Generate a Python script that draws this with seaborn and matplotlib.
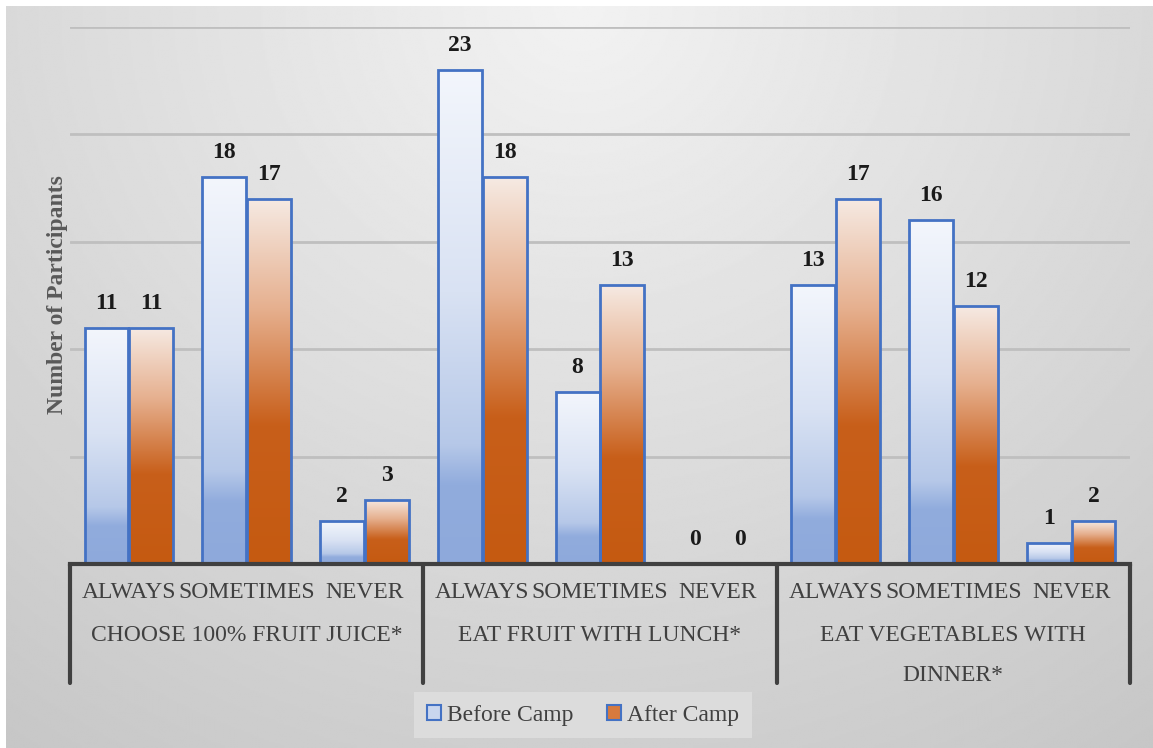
import numpy as np
import pandas as pd
import matplotlib
matplotlib.use("Agg")
import matplotlib.pyplot as plt
import seaborn as sns
from matplotlib.colors import LinearSegmentedColormap
from matplotlib.patches import Patch
import matplotlib.transforms as mtransforms

# ---- data ----
groups = ["CHOOSE 100% FRUIT JUICE*", "EAT FRUIT WITH LUNCH*", "EAT VEGETABLES WITH\nDINNER*"]
responses = ["ALWAYS", "SOMETIMES", "NEVER"]
periods = ["Before Camp", "After Camp"]
before_camp = [11, 18, 2, 23, 8, 0, 13, 16, 1]
after_camp = [11, 17, 3, 18, 13, 0, 17, 12, 2]

items = [f"{g}|{r}" for g in groups for r in responses]
df = pd.DataFrame({
    "item": items * 2,
    "period": [periods[0]] * len(items) + [periods[1]] * len(items),
    "count": before_camp + after_camp,
})

sns.set_theme(style="white")
plt.rcParams["font.family"] = ["Liberation Serif", "DejaVu Serif"]

W, H, DPI = 1153, 748, 100
fig = plt.figure(figsize=(W / DPI, H / DPI), dpi=DPI)
fig.patch.set_facecolor("white")

# soft gray backdrop of the chart area
bg = fig.add_axes([6 / W, 0, 1 - 6 / W, (H - 6) / H], zorder=-10)
yy, xx = np.mgrid[0:1:400j, 0:1:600j]
dist = np.sqrt(((xx - 0.5) / 0.7) ** 2 + yy ** 2)
shade = np.clip(0.95 - 0.14 * dist, 0, 1)
bg.imshow(shade, cmap="gray", vmin=0, vmax=1, aspect="auto", origin="upper",
          interpolation="bilinear")
bg.set_axis_off()

# plotting area
x0, x1 = 70, 1130
y_base, y_top = 564, 27
ax = fig.add_axes([x0 / W, (H - y_base) / H, (x1 - x0) / W, (y_base - y_top) / H])
ax.patch.set_alpha(0)

sns.barplot(data=df, x="item", y="count", hue="period", order=items,
            hue_order=periods, width=0.76, gap=0.02, ax=ax, legend=False,
            edgecolor="#4472C4", linewidth=2)

ax.set_ylim(0, 25)
ax.set_xlim(-0.5, len(items) - 0.5)
ax.set_yticks([5, 10, 15, 20, 25])
ax.yaxis.grid(True, color="#BFBFBF", linewidth=2)
ax.set_axisbelow(True)
ax.tick_params(left=False, bottom=False, labelleft=False, labelbottom=False)
for s in ax.spines.values():
    s.set_visible(False)
ax.set_xlabel("")
ax.set_ylabel("")

before_stops = [(0.0, "#F3F6FC"), (0.45, "#D9E2F3"), (0.76, "#B6C8E8"),
                (0.84, "#91ACDD"), (1.0, "#8EA9DB")]
after_stops = [(0.0, "#F6EAE3"), (0.3, "#E6B08F"), (0.62, "#C85F1A"),
               (1.0, "#C55A11")]
cmaps = [LinearSegmentedColormap.from_list("before", before_stops),
         LinearSegmentedColormap.from_list("after", after_stops)]

grad = np.linspace(0, 1, 256).reshape(-1, 1)
bars = list(ax.patches)
n = len(items)
for i, bar in enumerate(bars):
    k = i // n
    bx, bw, bh = bar.get_x(), bar.get_width(), bar.get_height()
    if bh <= 0:
        bar.set_visible(False)
        continue
    bar.set_facecolor("none")
    bar.set_zorder(3)
    im = ax.imshow(grad, cmap=cmaps[k], extent=[bx, bx + bw, 0, bh],
                   origin="upper", aspect="auto", zorder=2.5,
                   interpolation="bilinear")
    im.set_clip_path(bar)

ax.set_ylim(0, 25)
ax.set_xlim(-0.5, n - 0.5)

# value labels
for k, vals in enumerate([before_camp, after_camp]):
    for j, v in enumerate(vals):
        cx = j + (-0.19 if k == 0 else 0.19)
        ax.annotate(f"{v}", (cx, v), xytext=(0, 10), textcoords="offset points",
                    ha="center", va="bottom", fontsize=17, fontweight="bold",
                    color="#1A1A1A", zorder=5)

# multi-level category axis
trans = mtransforms.blended_transform_factory(ax.transData, ax.transAxes)
ax.plot([-0.5, n - 0.5], [0, 0], transform=trans, color="#404040", lw=3,
        clip_on=False, zorder=6, solid_capstyle="projecting")
sep_bottom = -(683 - y_base) / (y_base - y_top)
for xs in [-0.5, 2.5, 5.5, 8.5]:
    ax.plot([xs, xs], [0, sep_bottom], transform=trans, color="#404040", lw=3,
            clip_on=False, zorder=6)

sub_y = -(593 - y_base) / (y_base - y_top)
for j, item in enumerate(items):
    ax.text(j, sub_y, item.split("|")[1], transform=trans, ha="center",
            va="center", fontsize=17, color="#404040")

grp_y = -(625 - y_base) / (y_base - y_top)
for g_i, g in enumerate(groups):
    ax.text(3 * g_i + 1, grp_y, g, transform=trans, ha="center", va="top",
            fontsize=17, color="#404040", linespacing=2.2,
            multialignment="center")

fig.text(57 / W, (H - 295) / H, "Number of Participants", rotation=90,
         ha="center", va="center", fontsize=17, fontweight="bold",
         color="#595959")

handles = [Patch(facecolor="#C9D6EE", edgecolor="#4472C4", linewidth=1.5),
           Patch(facecolor="#D77A3E", edgecolor="#4472C4", linewidth=1.5)]
leg = fig.legend(handles, periods, loc="center", bbox_to_anchor=(583 / W, (H - 715) / H),
                 ncol=2, frameon=True, fontsize=17, handlelength=0.6,
                 handleheight=0.6, handletextpad=0.25, columnspacing=1.4,
                 borderpad=0.55, fancybox=False)
leg.get_frame().set_facecolor("#E0E0E0")
leg.get_frame().set_edgecolor("none")
for t in leg.get_texts():
    t.set_color("#404040")

fig.savefig("out.png", dpi=DPI)
